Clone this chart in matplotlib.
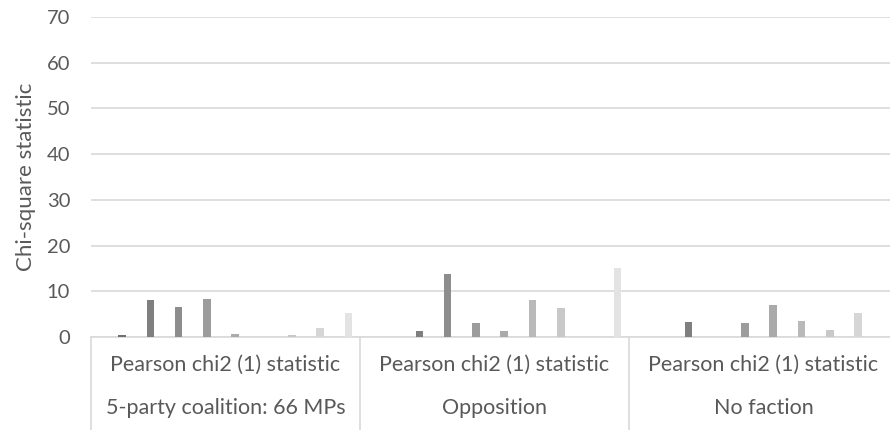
import matplotlib
matplotlib.use("Agg")
import matplotlib.pyplot as plt
import numpy as np

plt.rcParams['font.family'] = ['Lato', 'DejaVu Sans']

groups = ["5-party coalition: 66 MPs", "Opposition", "No faction"]
sub_label = "Pearson chi2 (1) statistic"

# one value per series within each group (series 1..9)
coalition = [0.5, 8.0, 6.6, 8.3, 0.6, 0.0, 0.5, 1.9, 5.3]
opposition = [0.0, 1.3, 13.7, 3.0, 1.3, 8.0, 6.3, 0.0, 15.0]
no_faction = [0.0, 3.3, 0.0, 3.0, 6.9, 3.6, 1.5, 5.2, 0.0]

series_colors = ["#6f6f6f", "#7f7f7f", "#8d8d8d", "#9c9c9c", "#aaaaaa",
                 "#b9b9b9", "#c8c8c8", "#d6d6d6", "#e3e3e3"]

yticks = [0, 10, 20, 30, 40, 50, 60, 70]

values = np.array([coalition, opposition, no_faction])
n_series = values.shape[1]

W, H = 890, 430
fig = plt.figure(figsize=(W / 100, H / 100), dpi=100)
left, right, top, bottom = 91, 890, 17, 337
ax = fig.add_axes([left / W, 1 - bottom / H, (right - left) / W, (bottom - top) / H])

group_px = 269.0
xmax = (right - left) / group_px
offset = 31 / group_px
step = 28.3 / group_px
bw = 7.5 / group_px

for s in range(n_series):
    xs = np.arange(len(groups)) + offset + s * step
    ax.bar(xs, values[:, s], width=bw, color=series_colors[s], zorder=3)

ax.set_xlim(0, xmax)
ax.set_ylim(0, 70)
ax.set_yticks(yticks)
ax.set_xticks([])
ax.yaxis.grid(True, color="#d9d9d9", linewidth=1.2)
ax.set_axisbelow(True)
for side in ["top", "right", "left"]:
    ax.spines[side].set_visible(False)
ax.spines["bottom"].set_color("#d9d9d9")
ax.spines["bottom"].set_linewidth(1.2)
ax.tick_params(axis="y", length=0, pad=15, labelsize=14.5, labelcolor="#595959")
ax.set_ylabel("Chi-square statistic", fontsize=16, color="#595959", labelpad=8)

# two-level category axis below the plot
trans = ax.get_xaxis_transform()
for g in range(len(groups) + 1):
    ax.plot([g, g], [0, -93 / (bottom - top)], transform=trans, color="#d9d9d9",
            linewidth=1.2, clip_on=False)
for g, name in enumerate(groups):
    cx = g + 0.5
    ax.text(cx, -28 / (bottom - top), sub_label, transform=trans, ha="center",
            va="center", fontsize=15.5, color="#595959")
    ax.text(cx, -71 / (bottom - top), name, transform=trans, ha="center",
            va="center", fontsize=15.5, color="#595959")

fig.savefig("out.png", dpi=100)
